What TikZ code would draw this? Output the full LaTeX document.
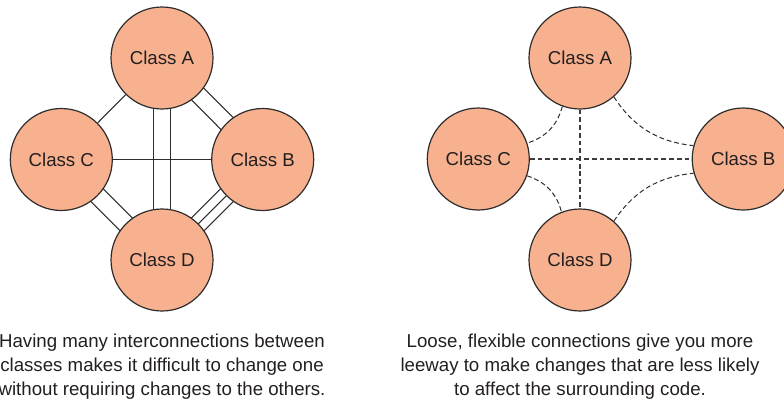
\documentclass[tikz,border=0pt]{standalone}
\usepackage{fontspec}
\setmainfont{Liberation Sans}
\usetikzlibrary{calc}
\pgfdeclarelayer{bg}
\pgfsetlayers{bg,main}
\definecolor{salmon}{RGB}{248,177,142}
\definecolor{edgec}{RGB}{45,45,45}
\definecolor{dashc}{RGB}{60,60,60}
\definecolor{txt}{RGB}{35,31,32}
\begin{document}
\begin{tikzpicture}[x=0.75pt,y=0.75pt,
  cls/.style={circle, draw=edgec, line width=0.9pt, fill=salmon, minimum size=76.5pt,
    inner sep=0pt, font=\fontsize{14}{17}\selectfont, text=txt},
  tight/.style={draw=edgec, line width=0.8pt},
  loosestraight/.style={draw=dashc, line width=0.95pt, dash pattern=on 3.6pt off 2.2pt},
  loosecurve/.style={draw=edgec, line width=0.75pt, dash pattern=on 3.6pt off 2.2pt},
  caption/.style={align=center, font=\fontsize{14}{17.7}\selectfont, text=txt, anchor=base, inner sep=0pt}]
\useasboundingbox (0,0) rectangle (784,-400);
\clip (0,0) rectangle (784,-400);

% ---------- left: tight coupling ----------
\node[cls] (LA) at (162,-58) {Class A};
\node[cls] (LC) at (61.3,-159.5) {Class C};
\node[cls] (LB) at (262.7,-159.5) {Class B};
\node[cls] (LD) at (162,-260) {Class D};

\begin{pgfonlayer}{bg}
  \draw[tight] (LA) -- (LC);
  \draw[tight] (LC) -- (LB);
  % A-B double
  \draw[tight] ($(LA)!6.375pt!90:(LB)$) -- ($(LB)!6.375pt!-90:(LA)$);
  \draw[tight] ($(LA)!6.375pt!-90:(LB)$) -- ($(LB)!6.375pt!90:(LA)$);
  % A-D double
  \draw[tight] ($(LA)!6.375pt!90:(LD)$) -- ($(LD)!6.375pt!-90:(LA)$);
  \draw[tight] ($(LA)!6.375pt!-90:(LD)$) -- ($(LD)!6.375pt!90:(LA)$);
  % C-D double
  \draw[tight] ($(LC)!6.6pt!90:(LD)$) -- ($(LD)!6.6pt!-90:(LC)$);
  \draw[tight] ($(LC)!6.6pt!-90:(LD)$) -- ($(LD)!6.6pt!90:(LC)$);
  % B-D triple
  \draw[tight] (LB.center) -- (LD.center);
  \draw[tight] ($(LB)!6.75pt!90:(LD)$) -- ($(LD)!6.75pt!-90:(LB)$);
  \draw[tight] ($(LB)!6.75pt!-90:(LD)$) -- ($(LD)!6.75pt!90:(LB)$);
\end{pgfonlayer}

\node[caption] (capL) at (162,-395) {Having many interconnections between\\classes makes it difficult to change one\\without requiring changes to the others.};

% ---------- right: loose coupling ----------
\node[cls] (RA) at (580,-58) {Class A};
\node[cls] (RC) at (478.3,-159) {Class C};
\node[cls] (RB) at (743.2,-159) {Class B};
\node[cls] (RD) at (580,-260) {Class D};

\draw[loosestraight] (RA) -- (RD);
\draw[loosestraight] (RC) -- (RB);
\draw[loosecurve] (RA.250) to[bend left=28] (RC.18);
\draw[loosecurve] (RA.311) to[bend right=25] (RB.165);
\draw[loosecurve] (RC.341) to[bend left=28] (RD.111);
\draw[loosecurve] (RD.49) to[bend left=25] (RB.196);

\node[caption] (capR) at (580,-395) {Loose, flexible connections give you more\\leeway to make changes that are less likely\\to affect the surrounding code.};
\end{tikzpicture}
\end{document}
